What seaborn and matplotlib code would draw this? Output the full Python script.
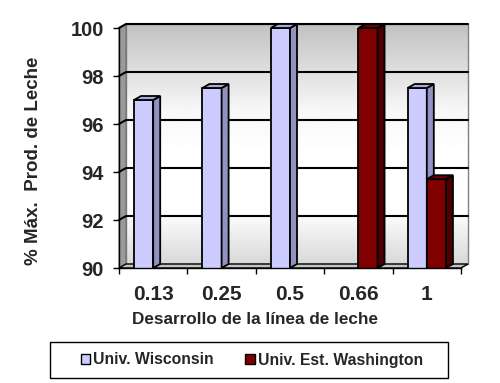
import numpy as np
import pandas as pd
import matplotlib
matplotlib.use("Agg")
import matplotlib.pyplot as plt
from matplotlib.patches import Polygon, Patch, Rectangle
import seaborn as sns

# data
stages = ["0.13", "0.25", "0.5", "0.66", "1"]
series = ["Univ. Wisconsin", "Univ. Est. Washington"]
wisconsin = [97.0, 97.5, 100.0, np.nan, 97.5]
washington = [np.nan, np.nan, np.nan, 100.0, 93.7]
yticks = [90, 92, 94, 96, 98, 100]

front_colors = ["#ccccff", "#800000"]
side_colors = ["#9191c2", "#4a0000"]
top_colors = ["#a9a9dc", "#660000"]

df = pd.DataFrame({
    "stage": stages * 2,
    "serie": [series[0]] * len(stages) + [series[1]] * len(stages),
    "value": wisconsin + washington,
})

sns.set_style("white")
plt.rcParams["font.family"] = ["Liberation Sans", "DejaVu Sans"]
plt.rcParams["font.weight"] = "bold"

fig = plt.figure(figsize=(5, 3.83), dpi=100)
ax = fig.add_axes([119 / 500, 1 - 268 / 383, 342 / 500, 240 / 383])
ax.set_facecolor("none")

sns.barplot(data=df, x="stage", y="value", hue="serie", order=stages,
            hue_order=series, palette=front_colors, width=0.56,
            edgecolor="black", linewidth=1.3, saturation=1, ax=ax,
            legend=False, zorder=2)

bars = [p for p in ax.patches if isinstance(p, Rectangle)
        and np.isfinite(p.get_height()) and p.get_height() > 0]
bars.sort(key=lambda p: p.get_x())

ymin, ymax = yticks[0], yticks[-1]
xmin, xmax = -0.5, len(stages) - 0.5
ax.set_xlim(xmin, xmax)
ax.set_ylim(ymin, ymax)

# depth offset of the 3D look: 7 px right, 4 px up
fig.canvas.draw()
inv = ax.transData.inverted()
p0 = inv.transform(ax.transData.transform((0, ymin)))
p1 = inv.transform(ax.transData.transform((0, ymin)) + np.array([7, 4]))
dx, dy = p1 - p0

# back wall with gradient
grad = np.concatenate([np.linspace(0.76, 0.97, 40), np.linspace(0.97, 1.0, 20),
                       np.ones(25), np.linspace(1.0, 0.85, 25)])
ax.imshow(grad[:, None], cmap="gray", vmin=0, vmax=1, aspect="auto",
          extent=[xmin + dx, xmax + dx, ymin + dy, ymax + dy], origin="upper",
          zorder=0, clip_on=False)
ax.set_xlim(xmin, xmax)
ax.set_ylim(ymin, ymax)
ax.add_patch(Polygon([(xmin + dx, ymin + dy), (xmax + dx, ymin + dy),
                      (xmax + dx, ymax + dy), (xmin + dx, ymax + dy)],
                     closed=True, fill=False, edgecolor="#808080", lw=1,
                     zorder=0.5, clip_on=False))
# left wall and floor
ax.add_patch(Polygon([(xmin, ymin), (xmin + dx, ymin + dy), (xmin + dx, ymax + dy),
                      (xmin, ymax)], closed=True, facecolor="#9a9a9a",
                     edgecolor="#707070", lw=0.8, zorder=0.6, clip_on=False))
ax.add_patch(Polygon([(xmin, ymin), (xmax, ymin), (xmax + dx, ymin + dy),
                      (xmin + dx, ymin + dy)], closed=True, facecolor="#c4c4c4",
                     edgecolor="black", lw=1, zorder=0.6, clip_on=False))

# gridlines on the walls
for t in yticks[1:]:
    ax.plot([xmin, xmin + dx, xmax + dx], [t, t + dy, t + dy], color="black",
            lw=1.5, zorder=1, clip_on=False)

# side and top faces of each bar
for k, p in enumerate(bars):
    z = 2 + 0.1 * k
    p.set_zorder(z)
    x0, w, h = p.get_x(), p.get_width(), p.get_height()
    x1 = x0 + w
    si = 0 if p.get_facecolor()[0] > 0.6 else 1
    side = Polygon([(x1, ymin), (x1 + dx, ymin + dy), (x1 + dx, h + dy), (x1, h)],
                   closed=True, facecolor=side_colors[si], edgecolor="black",
                   lw=1.3, zorder=z + 0.05, clip_on=False)
    top = Polygon([(x0, h), (x0 + dx, h + dy), (x1 + dx, h + dy), (x1, h)],
                  closed=True, facecolor=top_colors[si], edgecolor="black",
                  lw=1.3, zorder=z + 0.05, clip_on=False)
    ax.add_patch(side)
    ax.add_patch(top)

sns.despine(ax=ax, top=True, right=True)
ax.spines["left"].set_color("black")
ax.spines["bottom"].set_color("black")
ax.spines["left"].set_linewidth(1)
ax.spines["bottom"].set_linewidth(1)
ax.spines["left"].set_zorder(5)

ax.set_yticks(yticks)
ax.set_yticklabels([str(t) for t in yticks], fontsize=14.5, fontweight="bold")
ax.tick_params(axis="y", direction="out", length=4, width=1, color="black", pad=7,
               left=True)
ax.set_xticks(range(len(stages)))
ax.set_xticklabels(stages, fontsize=15, fontweight="bold")
ax.set_xticks(np.arange(xmin, xmax + 0.01, 1), minor=True)
ax.tick_params(axis="x", which="major", length=0, pad=12)
ax.tick_params(axis="x", which="minor", direction="out", length=4, width=1,
               color="black", bottom=True)

ax.set_xlabel("Desarrollo de la línea de leche", fontsize=12.3, fontweight="bold")
ax.xaxis.set_label_coords(0.398, -0.183)
ax.set_ylabel("% Máx.  Prod. de Leche", fontsize=13.5, fontweight="bold")
ax.yaxis.set_label_coords(-0.225, 0.446)

# legend box drawn as a figure rectangle, entries placed inside it
fig.patches.append(Rectangle((50 / 500, 1 - 378 / 383), 398 / 500, 36 / 383,
                             transform=fig.transFigure, fill=False,
                             edgecolor="black", lw=1))
handles = [Patch(facecolor=c, edgecolor="black", lw=1) for c in front_colors]
leg = fig.legend(handles, series, loc="center", bbox_to_anchor=(252 / 500, 1 - 360 / 383),
                 ncol=2, frameon=False, prop={"size": 11.3, "weight": "bold"},
                 handlelength=0.6, handleheight=0.6, handletextpad=0.2,
                 columnspacing=2.0, borderpad=0, borderaxespad=0)

fig.savefig("out.png", dpi=100)
